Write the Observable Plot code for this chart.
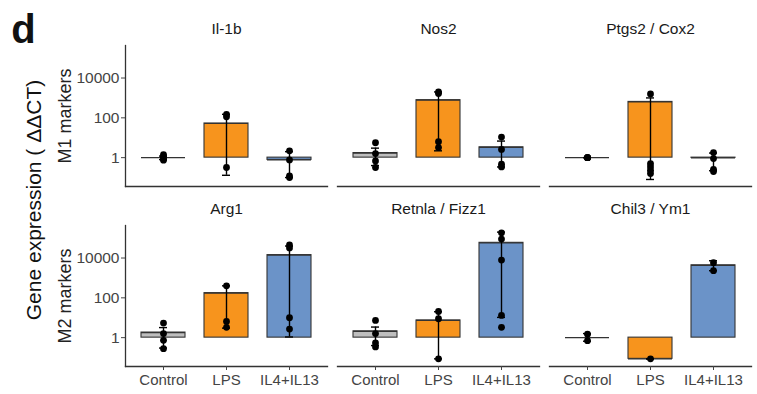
<!DOCTYPE html>
<html><head><meta charset="utf-8">
<script src="https://cdn.jsdelivr.net/npm/d3@7"></script>
<script src="https://cdn.jsdelivr.net/npm/@observablehq/plot@0.6"></script>
<style>body{margin:0;background:#fff} #chart{width:757px;height:394px}</style>
</head><body><div id="chart"></div>
<script>
const conditions = ["Control", "LPS", "IL4+IL13"];
const conditionColors = ["#bebebe", "#f7941d", "#6b93c8"];
const genes = ["Il-1b", "Nos2", "Ptgs2 / Cox2", "Arg1", "Retnla / Fizz1", "Chil3 / Ym1"];
const geneRow = ["M1 markers", "M1 markers", "M1 markers", "M2 markers", "M2 markers", "M2 markers"];
const geneCol = [0, 1, 2, 0, 1, 2];
const rowLabels = ["M1 markers", "M2 markers"];
const yTitle = "Gene expression ( ΔΔCT)";
const panelTag = "d";
const yTicks = [1, 100, 10000];

// mean per gene x condition (Control, LPS, IL4+IL13)
const meanValues = [
  [1.0, 52, 0.77],
  [1.7, 770, 3.3],
  [1.0, 630, 0.97],
  [1.8, 172, 14000],
  [2.07, 7.3, 58000],
  [1.0, 0.086, 4300]
];
const errLow = [
  [0.8, 0.13, 0.1],
  [0.4, 2.2, 0.34],
  [1.0, 0.08, 0.22],
  [0.3, 3.0, 1.08],
  [0.4, 0.086, 10.4],
  [0.66, 0.086, 2300]
];
const errHigh = [
  [1.2, 150, 2.0],
  [3.0, 2000, 6.8],
  [1.0, 1000, 1.7],
  [3.2, 400, 40000],
  [3.4, 20, 200000],
  [1.6, 0.086, 7300]
];
const replicateValues = [
  [[1.4, 1.15, 0.9, 0.75], [148, 112, 0.32], [2.2, 0.77, 0.12, 0.1]],
  [[5.6, 1.6, 0.68, 0.32], [2000, 1660, 6.3, 3.2], [10.8, 2.6, 0.47, 0.34]],
  [[1, 1, 1, 1], [1580, 0.5, 0.34, 0.23, 0.16], [1.8, 0.9, 0.26, 0.2]],
  [[5.4, 1.6, 0.73, 0.28], [400, 6.5, 3.3], [45000, 32000, 10, 2.7]],
  [[7.3, 1.6, 0.54, 0.34], [20.6, 8.9, 0.086], [184000, 89000, 7900, 13, 3.3]],
  [[1.5, 0.7], [0.086], [5800, 2300]]
];

const bars = [];
const dots = [];
genes.forEach((g, i) => conditions.forEach((c, j) => {
  bars.push({gene: g, col: geneCol[i], row: geneRow[i], condition: c,
             mean: meanValues[i][j], lo: errLow[i][j], hi: errHigh[i][j]});
  replicateValues[i][j].forEach(v => dots.push({gene: g, col: geneCol[i], row: geneRow[i], condition: c, value: v}));
}));

const F = {fx: "col", fy: "row", x: "condition"};

const plot = Plot.plot({
  width: 757, height: 394,
  marginTop: 44, marginRight: 5, marginBottom: 27.3, marginLeft: 124,
  facet: {marginTop: 0, marginRight: 0, marginBottom: 0, marginLeft: 0},
  style: {fontFamily: "'Liberation Sans', Arial, sans-serif", fontSize: "15px", background: "white"},
  fx: {domain: [0, 1, 2], paddingInner: 0.047, paddingOuter: 0, axis: null},
  fy: {domain: rowLabels, paddingInner: 0.217, paddingOuter: 0, axis: null},
  x: {domain: conditions, paddingInner: 0.3, paddingOuter: 0.25},
  y: {type: "log", domain: [0.0355, 4.3e5]},
  color: {domain: conditions, range: conditionColors},
  marks: [
    Plot.barY(bars, {...F, y1: 1, y2: "mean", fill: "condition", stroke: "#333", strokeWidth: 1.1}),
    Plot.tickY(bars, {...F, y: "mean", stroke: "#333", strokeWidth: 1.2}),
    Plot.ruleX(bars, {...F, y1: "lo", y2: "hi", stroke: "#000", strokeWidth: 1.4}),
    Plot.tickY(bars, {...F, y: "lo", insetLeft: 18, insetRight: 18, stroke: "#000", strokeWidth: 1.4}),
    Plot.tickY(bars, {...F, y: "hi", insetLeft: 18, insetRight: 18, stroke: "#000", strokeWidth: 1.4}),
    Plot.dot(dots, {...F, y: "value", r: 3.4, fill: "#000", stroke: null}),
    Plot.frame({anchor: "bottom", stroke: "#333", strokeWidth: 1.3}),
    Plot.frame({anchor: "left", facetAnchor: "left", stroke: "#333", strokeWidth: 1.3}),
    Plot.axisY({ticks: yTicks, tickFormat: d => String(d), tickSize: 4, tickPadding: 2, color: "#444", fontSize: 15.5, label: null}),
    Plot.axisX({tickSize: 4, tickPadding: 4, color: "#444", fontSize: 15, label: null}),
    Plot.text(genes, {fx: (d, i) => geneCol[i], fy: (d, i) => geneRow[i], text: d => d, frameAnchor: "top", lineAnchor: "middle", dy: -16, fill: "#1a1a1a", fontSize: 15.5}),
    Plot.text(rowLabels, {fx: () => 0, fy: d => d, text: d => d, frameAnchor: "left", textAnchor: "middle", lineAnchor: "middle", rotate: -90, dx: -60, fontSize: 18, fill: "#222"}),
    Plot.text([yTitle], {fx: () => 0, fy: () => rowLabels[0], text: d => d, frameAnchor: "bottom-left", textAnchor: "middle", lineAnchor: "middle", rotate: -90, dx: -91, dy: 13.5, fontSize: 21, fill: "#111"}),
    Plot.text([panelTag], {fx: () => 0, fy: () => rowLabels[0], text: d => d, frameAnchor: "top-left", textAnchor: "middle", lineAnchor: "middle", dx: -102, dy: -15, fontSize: 40, fontWeight: "bold", fill: "#111"})
  ]
});
document.getElementById("chart").appendChild(plot);
</script>
</body></html>
